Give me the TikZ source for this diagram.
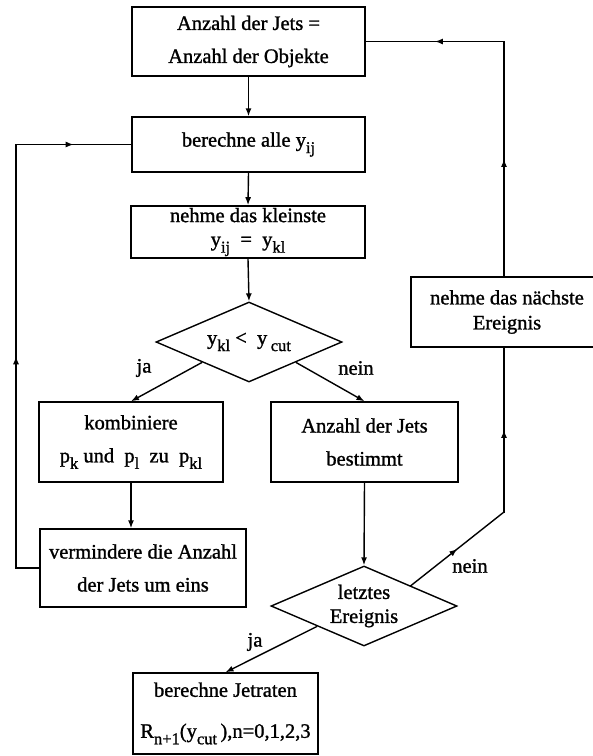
\documentclass[tikz,border=0pt]{standalone}
\usepackage{fontspec}
\setmainfont{Liberation Serif}[FakeBold=1.2]
\usetikzlibrary{arrows.meta,shapes.geometric,decorations.markings}
\newcommand{\lowidx}[1]{\raisebox{-6.5pt}{\fontsize{16.5}{16.5}\selectfont #1}}

\begin{document}
\begin{tikzpicture}[
  x=1pt, y=-1pt,
  font=\fontsize{20.5}{33}\selectfont,
  line width=1.4pt,
  box/.style={draw, rectangle, align=center, inner sep=2pt},
  decide/.style={draw, diamond, align=center, inner sep=0pt, aspect=2.3, minimum width=186pt, minimum height=80pt},
  arrow/.style={-{Latex[length=8pt,width=6pt]}},
  loopline/.style={line cap=rect},
  midarrow/.style={loopline, postaction={decorate}, decoration={markings, mark=at position 0.5 with {\arrow{Latex[length=8pt,width=6pt]}}}},
  lbl/.style={inner sep=1pt}
]
\useasboundingbox (0,0) rectangle (593,756);

\node[box, minimum width=233pt, minimum height=69pt] (init) at (248.5,41.5) {Anzahl der Jets =\\Anzahl der Objekte};
\node[box, minimum width=233pt, minimum height=55pt] (calcy) at (248.5,144.5) {berechne alle y\lowidx{ij}};
\node[box, minimum width=234pt, minimum height=52pt] (smallest) at (248,232) {nehme das kleinste\\[-9pt] y\lowidx{ij}\ \ =\ \ y\lowidx{kl}};
\node[decide] (cut) at (249,342) {y\lowidx{kl}\ <\ \ y\,\lowidx{cut}};
\node[box, minimum width=184pt, minimum height=80pt] (combine) at (131,442) {kombiniere\\ p\lowidx{k} und\ \ p\lowidx{l}\ \ zu\ \ p\lowidx{kl}};
\node[box, minimum width=187pt, minimum height=80pt] (njets) at (364.5,442) {Anzahl der Jets\\bestimmt};
\node[box, minimum width=206pt, minimum height=78pt] (reduce) at (143,568) {vermindere die Anzahl\\der Jets um eins};
\node[decide] (last) at (364,606) {letztes\\[-9pt]Ereignis};
\node[box, minimum width=185pt, minimum height=81pt] (rates) at (225.5,713.5) {berechne Jetraten\\[8pt] R\lowidx{n+1}(y\lowidx{cut}\,),n=0,1,2,3};
\node[box, minimum width=192pt, minimum height=70pt] (next) at (507,312) {nehme das nächste\\[-8pt]Ereignis};

\node[lbl] (cutyes) at (144,368) {ja};
\node[lbl] (cutno) at (356,368) {nein};
\node[lbl] (lastno) at (470,566) {nein};
\node[lbl] (lastyes) at (255,642) {ja};

\coordinate (leftlow) at (16,568);
\coordinate (lefttop) at (16,144.5);
\coordinate (rightlow) at (504,512);
\coordinate (righttop) at (504,41.5);

\draw[arrow] (init.south) -- (calcy.north);
\draw[arrow] (calcy.south) -- (smallest.north);
\draw[arrow] (smallest.south) -- (cut.north);
\draw[arrow] (cut.south west) -- (combine.north);
\draw[arrow] (cut.south east) -- (njets.north);
\draw[arrow] (combine.south) -- (combine.south |- reduce.north);
\draw[arrow] (njets.south) -- (last.north);
\draw[arrow] (last.south west) -- (rates.north);

% Schleife links
\draw[loopline] (reduce.west) -- (leftlow);
\draw[midarrow] (leftlow) -- (lefttop);
\draw[midarrow] (lefttop) -- (calcy.west);

% Schleife rechts
\draw[midarrow] (last.north east) -- (rightlow);
\draw[midarrow] (rightlow) -- (rightlow |- next.south);
\draw[midarrow] (rightlow |- next.north) -- (righttop);
\draw[midarrow] (righttop) -- (init.east);
\end{tikzpicture}
\end{document}
